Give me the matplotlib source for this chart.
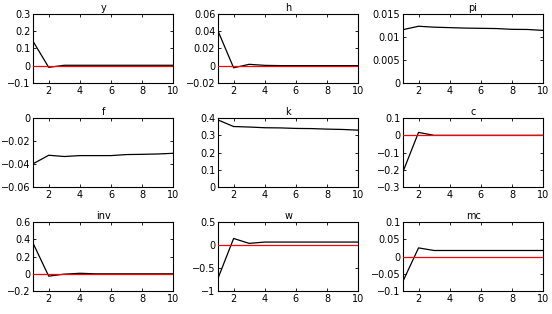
import matplotlib
matplotlib.use("Agg")
import matplotlib.pyplot as plt
import numpy as np

periods = [1, 2, 3, 4, 5, 6, 7, 8, 9, 10]

titles = ["y", "h", "pi", "f", "k", "c", "inv", "w", "mc"]

y_vals = [0.14, -0.01, 0.002, 0.002, 0.002, 0.002, 0.002, 0.002, 0.002, 0.002]
h_vals = [0.04, -0.0025, 0.0015, 0.0003, 0.0, 0.0, 0.0, 0.0, 0.0, 0.0]
pi_vals = [0.01156, 0.0123, 0.0121, 0.0120, 0.0119, 0.01185, 0.0118, 0.01163, 0.0116, 0.0114]
f_vals = [-0.0397, -0.0323, -0.0334, -0.0326, -0.0326, -0.0326, -0.0317, -0.0315, -0.0312, -0.0306]
k_vals = [0.389, 0.351, 0.348, 0.344, 0.343, 0.340, 0.339, 0.336, 0.334, 0.330]
c_vals = [-0.211, 0.017, 0.0, 0.0, 0.0, 0.0, 0.0, 0.0, 0.0, 0.0]
inv_vals = [0.353, -0.027, -0.004, 0.006, 0.0, 0.0, 0.0, 0.0, 0.0, 0.0]
w_vals = [-0.72, 0.142, 0.036, 0.064, 0.064, 0.064, 0.064, 0.064, 0.064, 0.064]
mc_vals = [-0.0716, 0.025, 0.0175, 0.0175, 0.0175, 0.0175, 0.0175, 0.0175, 0.0175, 0.0175]

series = [y_vals, h_vals, pi_vals, f_vals, k_vals, c_vals, inv_vals, w_vals, mc_vals]

ylims = [(-0.1, 0.3), (-0.02, 0.06), (0, 0.015), (-0.06, 0), (0, 0.4),
         (-0.3, 0.1), (-0.2, 0.6), (-1, 0.5), (-0.1, 0.1)]
yticks = [[-0.1, 0, 0.1, 0.2, 0.3],
          [-0.02, 0, 0.02, 0.04, 0.06],
          [0, 0.005, 0.01, 0.015],
          [-0.06, -0.04, -0.02, 0],
          [0, 0.1, 0.2, 0.3, 0.4],
          [-0.3, -0.2, -0.1, 0, 0.1],
          [-0.2, 0, 0.2, 0.4, 0.6],
          [-1, -0.5, 0, 0.5],
          [-0.1, -0.05, 0, 0.05, 0.1]]
ytick_labels = [["-0.1", "0", "0.1", "0.2", "0.3"],
                ["-0.02", "0", "0.02", "0.04", "0.06"],
                ["0", "0.005", "0.01", "0.015"],
                ["-0.06", "-0.04", "-0.02", "0"],
                ["0", "0.1", "0.2", "0.3", "0.4"],
                ["-0.3", "-0.2", "-0.1", "0", "0.1"],
                ["-0.2", "0", "0.2", "0.4", "0.6"],
                ["-1", "-0.5", "0", "0.5"],
                ["-0.1", "-0.05", "0", "0.05", "0.1"]]
zero_line = [True, True, False, False, False, True, True, True, True]
xticks = [2, 4, 6, 8, 10]

fig = plt.figure(figsize=(5.52, 3.14), dpi=100)
lefts = [0.060, 0.395, 0.730]
bottoms = [0.736, 0.404, 0.073]
w, hgt = 0.254, 0.22

for i in range(9):
    r, c = divmod(i, 3)
    ax = fig.add_axes([lefts[c], bottoms[r], w, hgt])
    ax.plot(periods, series[i], color="black", lw=0.9, zorder=2)
    if zero_line[i]:
        ax.plot(periods, np.zeros(len(periods)), color="red", lw=0.9, zorder=3)
    ax.set_xlim(1, 10)
    ax.set_ylim(*ylims[i])
    ax.set_xticks(xticks)
    ax.set_xticklabels([str(t) for t in xticks], fontsize=7)
    ax.set_yticks(yticks[i])
    ax.set_yticklabels([s.replace("-", "\u2212") for s in ytick_labels[i]], fontsize=7)
    ax.tick_params(direction="in", length=2, width=0.6, top=True, right=True, pad=2)
    for sp in ax.spines.values():
        sp.set_linewidth(0.8)
    ax.set_title(titles[i], fontsize=7, pad=2)

fig.savefig("out.png", dpi=100)
